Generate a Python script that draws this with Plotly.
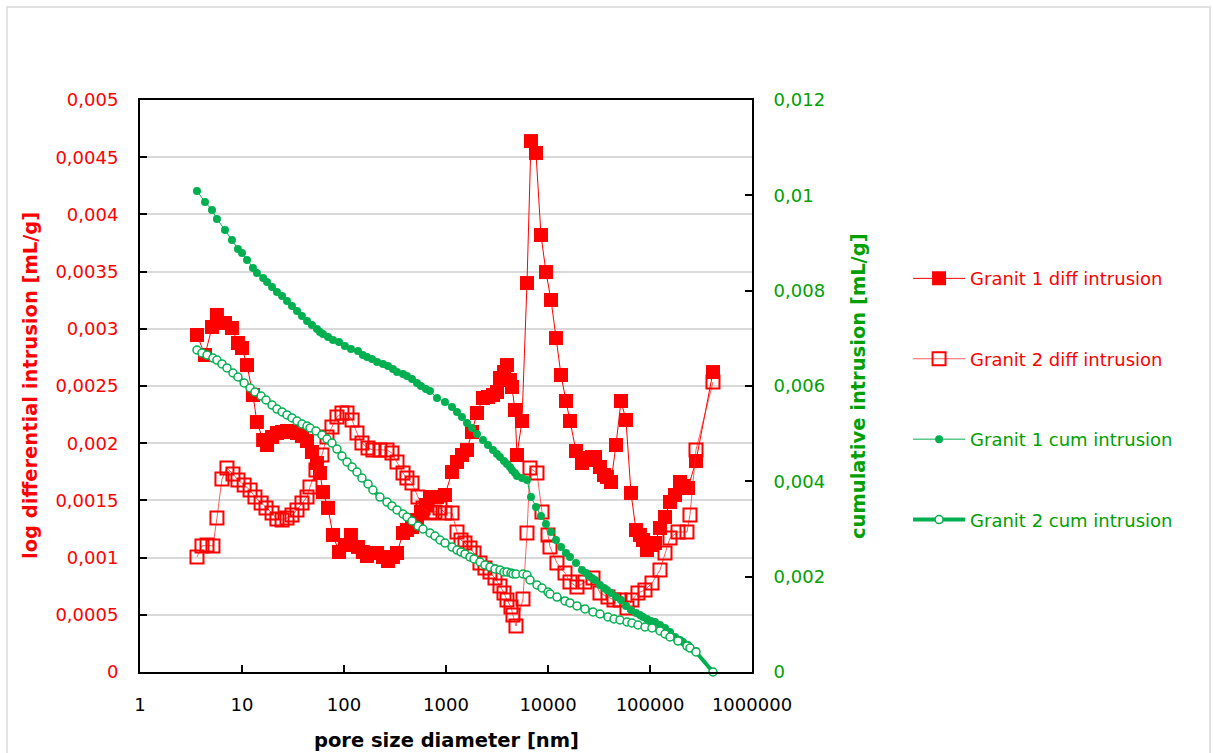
import plotly.graph_objects as go

# Pore size diameters [nm] and intrusion data, Granit 1
g1_diameter = [3.62, 4.34, 5.08, 5.68, 6.81, 7.97, 9.13, 10.0, 11.2, 12.8,
               14.0, 16.1, 17.6, 19.7, 22.0, 24.7, 27.6, 30.9, 34.6, 38.7,
               43.4, 48.5, 54.3, 58.1, 62.2, 69.7, 78.0, 89.3, 102, 117,
               137, 153, 168, 188, 211, 241, 270, 302, 331, 379,
               414, 464, 519, 568, 636, 697, 816, 977, 1145, 1282,
               1435, 1606, 1798, 2013, 2304, 2579, 2888, 3162, 3382, 3702,
               3962, 4237, 4436, 4744, 4966, 5559, 6223, 6810, 7623, 8534,
               9553, 10700, 11970, 13410, 15010, 16420, 18810, 21530, 23570, 25230,
               26980, 28880, 32330, 35400, 37850, 41440, 46400, 51940, 58140, 65090,
               72870, 79700, 85340, 93360, 102300, 111900, 125300, 140300, 157000, 175800,
               196800, 210600, 235700, 282400, 414400]

g1_diff = [0.002946, 0.002771, 0.003016, 0.003121, 0.003051, 0.003007, 0.002876, 0.002832, 0.002683, 0.002421,
           0.002185, 0.002028, 0.001984, 0.002054, 0.002089, 0.002098, 0.002107, 0.002098, 0.002089, 0.002063,
           0.002019, 0.001923, 0.001827, 0.001739, 0.001573, 0.001434, 0.001198, 0.001049, 0.001110, 0.001198,
           0.001093, 0.001049, 0.001014, 0.001040, 0.001040, 0.001005, 0.000970, 0.001005, 0.001040, 0.001215,
           0.001241, 0.001267, 0.001329, 0.001399, 0.001460, 0.001530, 0.001530, 0.001547, 0.001748, 0.001836,
           0.001897, 0.001941, 0.002098, 0.002264, 0.002395, 0.002404, 0.002421, 0.002447, 0.002570, 0.002622,
           0.002683, 0.002552, 0.002491, 0.002290, 0.001897, 0.002194, 0.003400, 0.004641, 0.004537, 0.003820,
           0.003496, 0.003252, 0.002919, 0.002596, 0.002369, 0.002194, 0.001932, 0.001827, 0.001853, 0.001871,
           0.001879, 0.001879, 0.001792, 0.001722, 0.001705, 0.001661, 0.001984, 0.002369, 0.002203, 0.001565,
           0.001241, 0.001198, 0.001154, 0.001066, 0.001110, 0.001128, 0.001259, 0.001355, 0.001486, 0.001547,
           0.001661, 0.001626, 0.001608, 0.001844, 0.002622]

g1_cum = [0.010091, 0.009860, 0.009692, 0.009504, 0.009273, 0.009063, 0.008874, 0.008790, 0.008643, 0.008476,
          0.008371, 0.008266, 0.008182, 0.008077, 0.007972, 0.007888, 0.007783, 0.007678, 0.007573, 0.007469,
          0.007364, 0.007280, 0.007196, 0.007133, 0.007091, 0.007028, 0.006965, 0.006923, 0.006839, 0.006776,
          0.006734, 0.006650, 0.006608, 0.006566, 0.006503, 0.006462, 0.006420, 0.006357, 0.006294, 0.006252,
          0.006210, 0.006147, 0.006063, 0.006000, 0.005937, 0.005895, 0.005748, 0.005664, 0.005559, 0.005455,
          0.005350, 0.005224, 0.005119, 0.004993, 0.004867, 0.004762, 0.004657, 0.004573, 0.004510, 0.004427,
          0.004364, 0.004301, 0.004238, 0.004175, 0.004112, 0.004070, 0.004028, 0.003671, 0.003462, 0.003273,
          0.003105, 0.002937, 0.002769, 0.002622, 0.002497, 0.002413, 0.002287, 0.002140, 0.002077, 0.002014,
          0.001972, 0.001930, 0.001825, 0.001762, 0.001720, 0.001657, 0.001573, 0.001510, 0.001385, 0.001301,
          0.001238, 0.001196, 0.001154, 0.001112, 0.001070, 0.001049, 0.000986, 0.000923, 0.000839, 0.000734,
          0.000671, 0.000629, 0.000566, 0.000441, 0.0]

# Pore size diameters [nm] and intrusion data, Granit 2
g2_diameter = [3.62, 4.05, 4.54, 5.19, 5.68, 6.36, 7.12, 8.16, 9.13, 10.5,
               12.0, 13.4, 15.4, 17.2, 19.7, 22.0, 24.7, 27.6, 30.9, 34.6,
               38.7, 43.4, 46.4, 53.1, 60.8, 68.1, 76.2, 85.3, 95.5, 107,
               120, 134, 150, 172, 192, 225, 264, 295, 331, 379,
               414, 464, 531, 595, 697, 780, 873, 977, 1145, 1282,
               1403, 1535, 1718, 1881, 2153, 2410, 2698, 3021, 3382, 3702,
               3962, 4336, 4535, 4854, 5684, 6223, 6655, 7798, 8730, 10000,
               10460, 12240, 14680, 16420, 19230, 23040, 27610, 32330, 38730, 44360,
               50770, 59450, 66550, 76230, 89300, 104600, 125300, 140300, 157000, 188100,
               230400, 246600, 282400, 414400]

g2_diff = [0.001005, 0.001101, 0.001110, 0.001101, 0.001346, 0.001687, 0.001783, 0.001731, 0.001678, 0.001635,
           0.001591, 0.001530, 0.001477, 0.001434, 0.001390, 0.001337, 0.001329, 0.001346, 0.001372, 0.001416,
           0.001477, 0.001530, 0.001617, 0.001766, 0.001897, 0.002054, 0.002142, 0.002229, 0.002264, 0.002264,
           0.002203, 0.002089, 0.002002, 0.001958, 0.001941, 0.001941, 0.001941, 0.001914, 0.001836, 0.001739,
           0.001696, 0.001652, 0.001530, 0.001434, 0.001390, 0.001399, 0.001434, 0.001390, 0.001390, 0.001224,
           0.001154, 0.001128, 0.001084, 0.001040, 0.000953, 0.000909, 0.000874, 0.000822, 0.000752, 0.000691,
           0.000629, 0.000568, 0.000498, 0.000402, 0.000638, 0.001215, 0.001783, 0.001739, 0.001399, 0.001198,
           0.001093, 0.000953, 0.000865, 0.000787, 0.000743, 0.000787, 0.000822, 0.000691, 0.000656, 0.000629,
           0.000629, 0.000559, 0.000629, 0.000691, 0.000717, 0.000778, 0.000892, 0.001040, 0.001171, 0.001224,
           0.001224, 0.001372, 0.001941, 0.002535]

g2_cum = [0.006755, 0.006692, 0.006650, 0.006587, 0.006545, 0.006462, 0.006378, 0.006273, 0.006189, 0.006063,
          0.005958, 0.005874, 0.005790, 0.005706, 0.005601, 0.005517, 0.005455, 0.005392, 0.005329, 0.005266,
          0.005203, 0.005161, 0.005119, 0.005056, 0.004972, 0.004888, 0.004804, 0.004678, 0.004531, 0.004406,
          0.004301, 0.004196, 0.004070, 0.003944, 0.003818, 0.003671, 0.003566, 0.003483, 0.003399, 0.003315,
          0.003252, 0.003168, 0.003063, 0.003000, 0.002916, 0.002853, 0.002769, 0.002706, 0.002622, 0.002559,
          0.002517, 0.002476, 0.002413, 0.002371, 0.002308, 0.002245, 0.002203, 0.002161, 0.002140, 0.002098,
          0.002098, 0.002077, 0.002056, 0.002056, 0.002056, 0.002035, 0.001930, 0.001825, 0.001762, 0.001678,
          0.001636, 0.001573, 0.001490, 0.001448, 0.001385, 0.001322, 0.001259, 0.001217, 0.001154, 0.001112,
          0.001091, 0.001049, 0.001028, 0.000986, 0.000944, 0.000923, 0.000860, 0.000797, 0.000734, 0.000650,
          0.000545, 0.000503, 0.000420, 0.0]

# Axis ticks
x_ticks = [1, 10, 100, 1000, 10000, 100000, 1000000]
x_tick_labels = ["1", "10", "100", "1000", "10000", "100000", "1000000"]
y_ticks = [0, 0.0005, 0.001, 0.0015, 0.002, 0.0025, 0.003, 0.0035, 0.004, 0.0045, 0.005]
y2_ticks = [0, 0.002, 0.004, 0.006, 0.008, 0.01, 0.012]


def comma_label(v):
    return "0" if v == 0 else ("%g" % v).replace(".", ",")


RED = "#ff0000"
GREEN = "#00b050"
GREEN_TEXT = "#00a000"
FONT = "DejaVu Sans"


def colored(text, color):
    return '<span style="color:%s">%s</span>' % (color, text)


fig = go.Figure()

fig.add_trace(go.Scatter(
    x=g1_diameter, y=g1_diff, name=colored("Granit 1 diff intrusion", RED),
    legendgroup="a", mode="lines+markers",
    line=dict(color=RED, width=1),
    marker=dict(symbol="square", size=14, color=RED, line=dict(width=0)),
))
fig.add_trace(go.Scatter(
    x=g2_diameter, y=g2_diff, name=colored("Granit 2 diff intrusion", RED),
    legendgroup="b", mode="lines+markers",
    line=dict(color="rgba(255,40,40,0.75)", width=1),
    marker=dict(symbol="square-open", size=13, color=RED, line=dict(width=2)),
))
fig.add_trace(go.Scatter(
    x=g1_diameter, y=g1_cum, name=colored("Granit 1 cum intrusion", GREEN_TEXT),
    legendgroup="c", mode="lines+markers", yaxis="y2", cliponaxis=False,
    line=dict(color=GREEN, width=1),
    marker=dict(symbol="circle", size=8, color=GREEN, line=dict(width=0)),
))
fig.add_trace(go.Scatter(
    x=g2_diameter, y=g2_cum, name=colored("Granit 2 cum intrusion", GREEN_TEXT),
    legendgroup="d", mode="lines+markers", yaxis="y2", cliponaxis=False,
    line=dict(color=GREEN, width=4),
    marker=dict(symbol="circle", size=8, color="white", line=dict(width=1.5, color=GREEN)),
))

fig.update_layout(
    width=1213, height=753,
    margin=dict(l=140, r=461, t=100, b=81),
    paper_bgcolor="white", plot_bgcolor="white",
    font=dict(family=FONT, size=18, color="black"),
    showlegend=True,
    legend=dict(
        x=1.255, xanchor="left", y=0.72, yanchor="top",
        font=dict(family=FONT, size=18),
        tracegroupgap=54, itemwidth=52,
        bgcolor="rgba(0,0,0,0)",
    ),
    xaxis=dict(
        type="log", range=[0, 6],
        tickvals=x_ticks, ticktext=x_tick_labels,
        ticks="inside", ticklen=7, tickwidth=1.5, tickcolor="black",
        showline=True, linecolor="black", linewidth=2, mirror=True,
        showgrid=False, zeroline=False,
        tickfont=dict(family=FONT, size=18, color="black"),
        ticklabelstandoff=15,
    ),
    yaxis=dict(
        range=[0, 0.005],
        tickvals=y_ticks, ticktext=[comma_label(v) for v in y_ticks],
        ticks="inside", ticklen=7, tickwidth=1.5, tickcolor="black",
        showline=True, linecolor="black", linewidth=2,
        showgrid=True, gridcolor="#d9d9d9", gridwidth=1.5, zeroline=False,
        tickfont=dict(family=FONT, size=18, color=RED),
        ticklabelstandoff=16,
    ),
    yaxis2=dict(
        range=[0, 0.012], overlaying="y", side="right",
        tickvals=y2_ticks, ticktext=[comma_label(v) for v in y2_ticks],
        ticks="inside", ticklen=7, tickwidth=1.5, tickcolor="black",
        showline=True, linecolor="black", linewidth=2,
        showgrid=False, zeroline=False,
        tickfont=dict(family=FONT, size=18, color=GREEN_TEXT),
        ticklabelstandoff=16,
    ),
    annotations=[
        dict(text="<b>log differential intrusion [mL/g]</b>", xref="paper", yref="paper",
             x=-0.1797, y=0.5, xanchor="center", yanchor="middle",
             textangle=-90, showarrow=False,
             font=dict(family=FONT, size=19.5, color=RED)),
        dict(text="<b>cumulative intrusion [mL/g]</b>", xref="paper", yref="paper",
             x=1.1732, y=0.5, xanchor="center", yanchor="middle",
             textangle=-90, showarrow=False,
             font=dict(family=FONT, size=19.5, color=GREEN_TEXT)),
        dict(text="<b>pore size diameter [nm]</b>", xref="paper", yref="paper",
             x=0.5, y=-0.1206, xanchor="center", yanchor="middle", showarrow=False,
             font=dict(family=FONT, size=19.5, color="black")),
    ],
    shapes=[
        dict(type="rect", xref="paper", yref="paper",
             x0=-0.2173, x1=1.7484, y0=1.1626, y1=-0.2,
             line=dict(color="#d9d9d9", width=1.5), layer="below"),
    ],
)

fig.write_html("out.html")
